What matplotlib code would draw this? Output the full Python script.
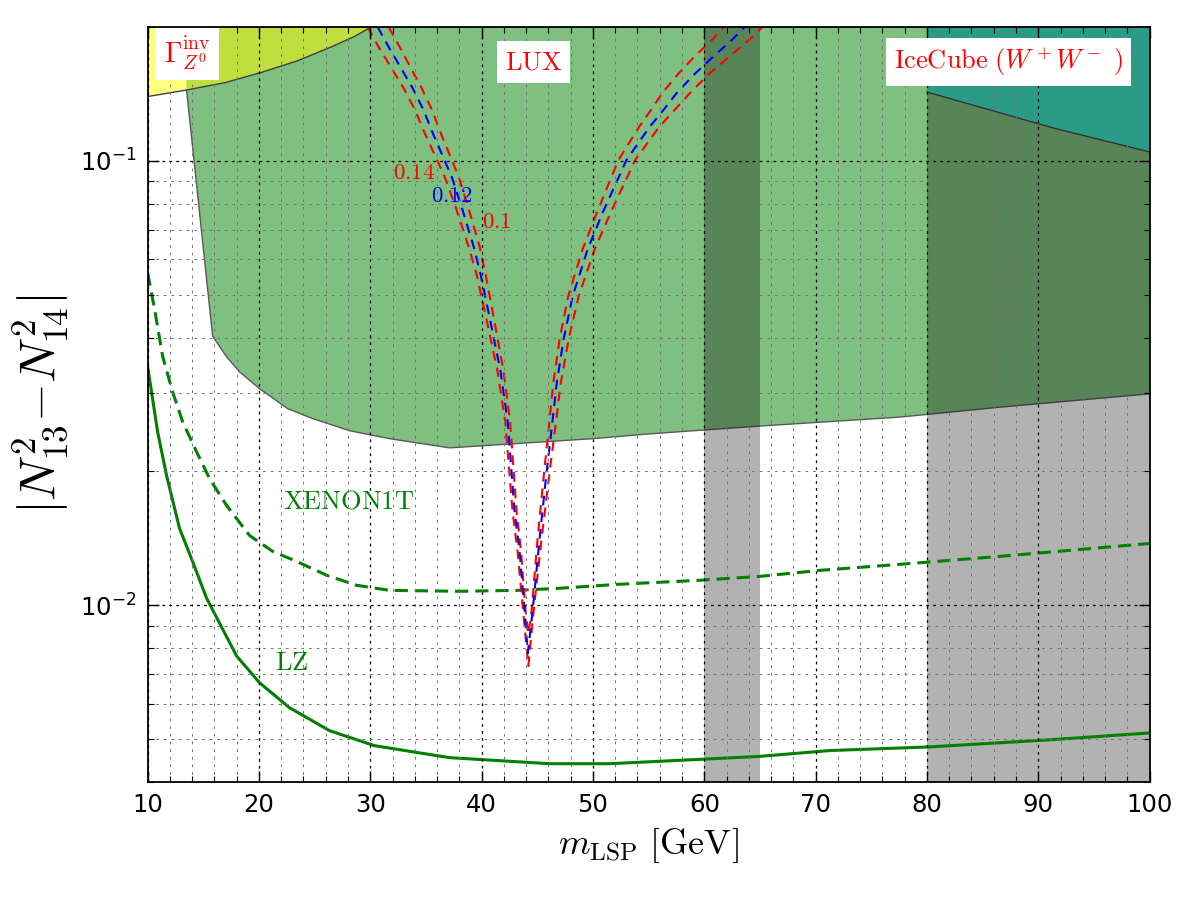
import matplotlib
matplotlib.use('Agg')
import matplotlib.pyplot as plt
from matplotlib.ticker import MultipleLocator, LogLocator, NullFormatter

# invisible Z width bound (excluded above)
gz_x = [10.0, 13.5, 17.0, 20.3, 23.5, 26.4, 28.5, 30.1]
gz_y = [0.1395, 0.1443, 0.150, 0.1583, 0.168, 0.180, 0.190, 0.200]

# LUX bound (excluded above)
lux_x = [13.3, 13.5, 15.84, 17.1, 18.26, 20.06, 22.57, 24.82, 28.14, 31.74, 37.13,
         49.97, 55.09, 64.97, 77.55, 86.53, 100.0]
lux_y = [0.200, 0.1443, 0.0403, 0.0362, 0.0335, 0.0307, 0.0277, 0.0263, 0.0247, 0.0237,
         0.0226, 0.0237, 0.0243, 0.0253, 0.0265, 0.0279, 0.0299]

# IceCube WW bound
ic_x = [80.0, 91.3, 100.0]
ic_y = [0.1428, 0.1186, 0.1047]

# XENON1T projection
xe_x = [10.0, 10.63, 11.35, 12.25, 13.14, 14.40, 15.57, 17.10, 19.16, 21.23, 23.38, 26.08,
        28.77, 31.74, 38.02, 43.14, 47.01, 52.12, 59.58, 64.97, 70.36, 77.55, 86.53, 100.0]
xe_y = [0.0560, 0.0463, 0.0363, 0.0302, 0.0259, 0.02214, 0.01927, 0.01676, 0.01435, 0.01322,
        0.01255, 0.01168, 0.01109, 0.0108, 0.01075, 0.0108, 0.01092, 0.01114, 0.01138,
        0.01161, 0.01198, 0.01236, 0.01288, 0.01377]

# LZ projection
lz_x = [10.0, 10.90, 11.71, 12.87, 14.04, 15.30, 17.99, 20.06, 22.75, 26.35, 30.39, 37.13,
        46.11, 51.50, 59.58, 64.97, 71.26, 80.24, 91.02, 100.0]
lz_y = [0.0345, 0.02455, 0.01956, 0.01488, 0.01255, 0.01037, 0.00769, 0.00669, 0.00588,
        0.00522, 0.00483, 0.00454, 0.0044, 0.0044, 0.0045, 0.00457, 0.00471, 0.0048,
        0.00498, 0.00516]

# relic density contours (Omega h^2 = 0.14, 0.12, 0.10)
left_y = [0.200, 0.182, 0.1458, 0.130, 0.1156, 0.0921, 0.0788, 0.0642, 0.0555, 0.0433,
          0.0335, 0.0259, 0.01626, 0.01322, 0.0097]
right_y = [0.0097, 0.01413, 0.01998, 0.0249, 0.0315, 0.0397, 0.0495, 0.0632, 0.0764,
           0.1005, 0.1192, 0.1294, 0.1428, 0.1575, 0.1719, 0.1877, 0.200]

om12_left = [30.66, 31.56, 33.80, 34.79, 35.60, 37.31, 38.20, 39.28, 39.91, 40.81, 41.71,
             42.34, 42.96, 43.41, 43.86]
om12_right = [44.58, 45.21, 45.84, 46.29, 46.74, 47.37, 48.17, 49.52, 50.87, 53.02, 55.09,
              56.26, 57.60, 59.22, 60.84, 62.55, 63.62]
om12_tip = (44.15, 0.0078)

om14_left = [29.76, 30.66, 32.99, 34.03, 34.88, 36.68, 37.66, 38.83, 39.55, 40.50, 41.44,
             42.12, 42.78, 43.23, 43.73]
om14_right = [44.67, 45.39, 46.11, 46.60, 47.10, 47.82, 48.71, 50.15, 51.59, 53.80, 55.95,
              57.25, 58.80, 60.50, 62.30, 64.10, 65.24]
om14_tip = (44.2, 0.0073)

om10_left = [31.65, 32.55, 34.61, 35.55, 36.32, 37.94, 38.78, 39.82, 40.36, 41.17, 41.98,
             42.56, 43.14, 43.54, 43.95]
om10_right = [44.49, 45.03, 45.62, 46.02, 46.43, 47.01, 47.77, 49.07, 50.35, 52.30, 54.15,
              55.15, 56.30, 57.72, 59.15, 60.75, 61.73]
om10_tip = (44.2, 0.0086)

# excluded mass windows (grey bands)
bands = [(60, 65), (80, 100)]

plt.rcParams['mathtext.fontset'] = 'dejavusans'
plt.rcParams['lines.scale_dashes'] = False

fig = plt.figure(figsize=(12, 9), dpi=100)
ax = fig.add_axes([0.123, 0.131, 0.835, 0.839])
ax.set_yscale('log')

# regions
ax.fill_between(lux_x, lux_y, 1.0, facecolor='green', alpha=0.5, edgecolor='none', zorder=1)
ax.plot(lux_x[1:], lux_y[1:], color='0.35', lw=1, zorder=1.1)
ax.fill_between(gz_x, gz_y, 1.0, facecolor='yellow', alpha=0.5, edgecolor='none', zorder=1.2)
ax.plot(gz_x, gz_y, color='0.25', lw=1, zorder=1.3)
for a, b in bands:
    ax.axvspan(a, b, facecolor='k', alpha=0.3, lw=0, zorder=1.4)
ax.fill_between(ic_x, ic_y, 1.0, facecolor='#2b9b87', edgecolor='none', zorder=1.5)
ax.plot(ic_x, ic_y, color='0.2', lw=1, zorder=1.6)

# projections
ax.plot(xe_x, xe_y, color='green', lw=2.2, dashes=(9.5, 5), zorder=2)
ax.plot(lz_x, lz_y, color='green', lw=2.2, zorder=2)

# relic contours
for lx, rx, tip, col in [(om14_left, om14_right, om14_tip, 'r'),
                         (om10_left, om10_right, om10_tip, 'r'),
                         (om12_left, om12_right, om12_tip, 'b')]:
    xs = lx + [tip[0]] + rx
    ys = left_y + [tip[1]] + right_y
    ax.plot(xs, ys, color=col, lw=1.5, dashes=(7, 5), zorder=2.2)

ax.set_xlim(10, 100)
ax.set_ylim(4e-3, 0.2)

ax.xaxis.set_major_locator(MultipleLocator(10))
ax.xaxis.set_minor_locator(MultipleLocator(2))
ax.yaxis.set_major_locator(LogLocator(base=10))
ax.yaxis.set_minor_locator(LogLocator(base=10, subs=range(2, 10)))
ax.yaxis.set_minor_formatter(NullFormatter())

ax.grid(which='major', color='k', ls=(0, (2, 3)), lw=0.9)
ax.grid(which='minor', color='0.45', ls=(0, (2, 3.5)), lw=0.7)
ax.set_axisbelow(False)

ax.tick_params(which='both', direction='in', top=True, right=True, labelsize=17.5)
ax.tick_params(which='major', length=8, width=1, pad=8)
ax.tick_params(which='minor', length=4, width=0.8)
for s in ax.spines.values():
    s.set_linewidth(1.3)
    s.set_zorder(5)

ax.set_xlabel(r'$m_{\rm LSP}\ [{\rm GeV}]$', fontsize=26, math_fontfamily='cm', labelpad=6)
ax.set_ylabel(r'$|N_{13}^2{-}N_{14}^2|$', fontsize=36, math_fontfamily='cm', labelpad=7)

box = dict(facecolor='white', edgecolor='none', boxstyle='square,pad=0.3')
ax.text(13.6, 0.1755, r'$\Gamma_{Z^0}^{\rm inv}$', color='r', fontsize=20, ha='center',
        va='center', math_fontfamily='cm', bbox=box, zorder=4)
ax.text(44.67, 0.1668, r'$\mathrm{LUX}$', color='r', fontsize=19, ha='center',
        va='center', math_fontfamily='cm', bbox=box, zorder=4)
ax.text(87.34, 0.1668, r'$\mathrm{IceCube}\ (W^+W^-\ )$', color='r', fontsize=19,
        ha='center', va='center', math_fontfamily='cm', bbox=box, zorder=4)
ax.text(28.05, 0.0171, r'$\mathrm{XENON1T}$', color='green', fontsize=19, ha='center',
        va='center', math_fontfamily='cm', zorder=4)
ax.text(22.93, 0.00741, r'$\mathrm{LZ}$', color='green', fontsize=19, ha='center',
        va='center', math_fontfamily='cm', zorder=4)
ax.text(33.89, 0.0940, r'$0.14$', color='r', fontsize=16.5, ha='center', va='center',
        math_fontfamily='cm', zorder=4)
ax.text(37.31, 0.0835, r'$0.12$', color='b', fontsize=16.5, ha='center', va='center',
        math_fontfamily='cm', zorder=4)
ax.text(41.35, 0.0730, r'$0.1$', color='r', fontsize=16.5, ha='center', va='center',
        math_fontfamily='cm', zorder=4)

fig.savefig('out.png', dpi=100)
